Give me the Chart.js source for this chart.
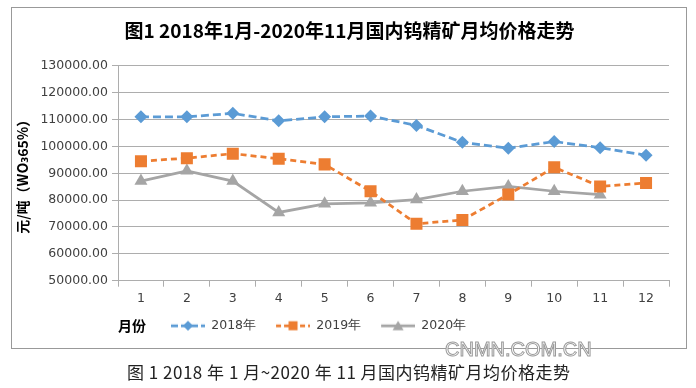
<!DOCTYPE html>
<html>
<head>
<meta charset="utf-8">
<script src="https://cdn.jsdelivr.net/npm/chart.js@4.4.1/dist/chart.umd.min.js"></script>
<style>
	body { margin: 0; width: 696px; height: 388px; background: #fff; position: relative; overflow: hidden; }
	#frame { position: absolute; left: 11px; top: 7px; width: 674px; height: 340px; border: 1px solid #999; }
	#box { position: absolute; left: 0; top: 0; width: 696px; height: 352px; }
	#mark {
		position: absolute; left: 445px; top: 338px;
		font: 20px "Liberation Sans", Arial, sans-serif; line-height: 22px;
		color: #fff; -webkit-text-stroke: 1px #9a9a9a;
	}
	#caption {
		position: absolute; left: 127px; top: 361px;
		font: 17px "Noto Sans CJK SC", sans-serif; line-height: 22px;
		color: #222; letter-spacing: 0.5px; white-space: nowrap;
	}
</style>
</head>
<body>
<div id="frame"></div>
<div id="box"><canvas id="myChart"></canvas></div>
<div id="mark">CNMN.COM.CN</div>
<div id="caption">图 1 2018 年 1 月~2020 年 11 月国内钨精矿月均价格走势</div>
<script>
var months = ["1", "2", "3", "4", "5", "6", "7", "8", "9", "10", "11", "12"];
var seriesNames = ["2018年", "2019年", "2020年"];
var price2018 = [111000, 111000, 112300, 109500, 111000, 111300, 107800, 101500, 99300, 101800, 99500, 96700];
var price2019 = [94500, 95600, 97300, 95400, 93300, 83300, 71200, 72600, 82100, 92200, 85100, 86400];
var price2020 = [87100, 90900, 87100, 75400, 78600, 79000, 80200, 83300, 85100, 83300, 82000, null];
var yMin = 50000, yMax = 130000, yStep = 10000;

var tickFont = { family: "'DejaVu Sans', sans-serif", size: 12.5 };
var gridColor = "#adadad";

// small legend sample: dashed line with the marker in the middle
function legendSample(color, dash, marker) {
	var c = document.createElement("canvas");
	c.width = 44;
	c.height = 14;
	var ctx = c.getContext("2d");
	ctx.strokeStyle = color;
	ctx.fillStyle = color;
	ctx.lineWidth = 2.75;
	ctx.setLineDash(dash);
	ctx.beginPath();
	ctx.moveTo(10, 7);
	ctx.lineTo(44, 7);
	ctx.stroke();
	ctx.setLineDash([]);
	ctx.beginPath();
	if (marker === "diamond") {
		ctx.moveTo(27, 2); ctx.lineTo(32, 7); ctx.lineTo(27, 12); ctx.lineTo(22, 7);
	} else if (marker === "square") {
		ctx.rect(22.5, 2.5, 9, 9);
	} else {
		ctx.moveTo(27, 2); ctx.lineTo(32.5, 11.5); ctx.lineTo(21.5, 11.5);
	}
	ctx.closePath();
	ctx.fill();
	return c;
}

var samples = [
	legendSample("#5B9BD5", [7, 3], "diamond"),
	legendSample("#ED7D31", [5, 3], "square"),
	legendSample("#A5A5A5", [], "triangle"),
];

// move the legend row next to the "月份" label, nudge the title right
var boxShift = {
	id: "boxShift",
	afterLayout: function (chart) {
		chart.legend.left += 139;
		chart.legend.right += 139;
		chart.titleBlock.left += 9;
		chart.titleBlock.right += 9;
	},
};

new Chart("myChart", {
	type: "line",
	data: {
		labels: months,
		datasets: [
			{
				label: seriesNames[0],
				data: price2018,
				borderColor: "#5B9BD5",
				backgroundColor: "#5B9BD5",
				borderWidth: 2.75,
				borderDash: [8, 4],
				pointStyle: "rectRot",
				pointRadius: 6.5,
				pointBorderWidth: 0,
			},
			{
				label: seriesNames[1],
				data: price2019,
				borderColor: "#ED7D31",
				backgroundColor: "#ED7D31",
				borderWidth: 2.75,
				borderDash: [6, 4],
				pointStyle: "rect",
				pointRadius: 8.5,
				pointBorderWidth: 0,
			},
			{
				label: seriesNames[2],
				data: price2020,
				borderColor: "#A5A5A5",
				backgroundColor: "#A5A5A5",
				borderWidth: 2.75,
				pointStyle: "triangle",
				pointRadius: 7.5,
				pointBorderWidth: 0,
			},
		],
	},
	options: {
		responsive: true,
		maintainAspectRatio: false,
		animation: false,
		layout: { padding: { top: 19, left: 12, right: 27, bottom: 10 } },
		plugins: {
			tooltip: { enabled: false },
			title: {
				display: true,
				text: "图1 2018年1月-2020年11月国内钨精矿月均价格走势",
				color: "#000",
				font: { family: "'Noto Sans CJK SC', sans-serif", size: 19, weight: "bold" },
				padding: { top: 0, bottom: 24 },
			},
			legend: {
				position: "bottom",
				align: "start",
				labels: {
					usePointStyle: true,
					pointStyleWidth: 44,
					padding: 10,
					color: "#404040",
					font: tickFont,
					generateLabels: function (chart) {
						return chart.data.datasets.map(function (ds, i) {
							return {
								text: ds.label,
								pointStyle: samples[i],
								fillStyle: ds.borderColor,
								strokeStyle: ds.borderColor,
								lineWidth: 0,
								datasetIndex: i,
								fontColor: "#404040",
							};
						});
					},
				},
			},
		},
		scales: {
			x: {
				offset: true,
				grid: { offset: true, drawOnChartArea: false, color: gridColor, tickLength: 6 },
				border: { color: gridColor },
				ticks: { color: "#404040", font: tickFont, padding: 5 },
				title: {
					display: true,
					text: "月份",
					align: "start",
					color: "#000",
					font: { family: "'Noto Sans CJK SC', sans-serif", size: 14, weight: "bold" },
					padding: { top: 6, bottom: -25 },
				},
			},
			y: {
				min: yMin,
				max: yMax,
				afterFit: function (scale) {
					scale.width = 106;
				},
				ticks: {
					stepSize: yStep,
					color: "#404040",
					font: tickFont,
					padding: 4,
					callback: function (v) {
						return v.toFixed(2);
					},
				},
				grid: { color: gridColor, tickLength: 6 },
				border: { color: gridColor },
				title: {
					display: true,
					text: "元/吨（WO₃65%）",
					color: "#000",
					font: { family: "'Noto Sans CJK SC', 'DejaVu Sans', sans-serif", size: 14, weight: "bold" },
					padding: { top: 2, bottom: 0 },
				},
			},
		},
	},
	plugins: [boxShift],
});
</script>
</body>
</html>
